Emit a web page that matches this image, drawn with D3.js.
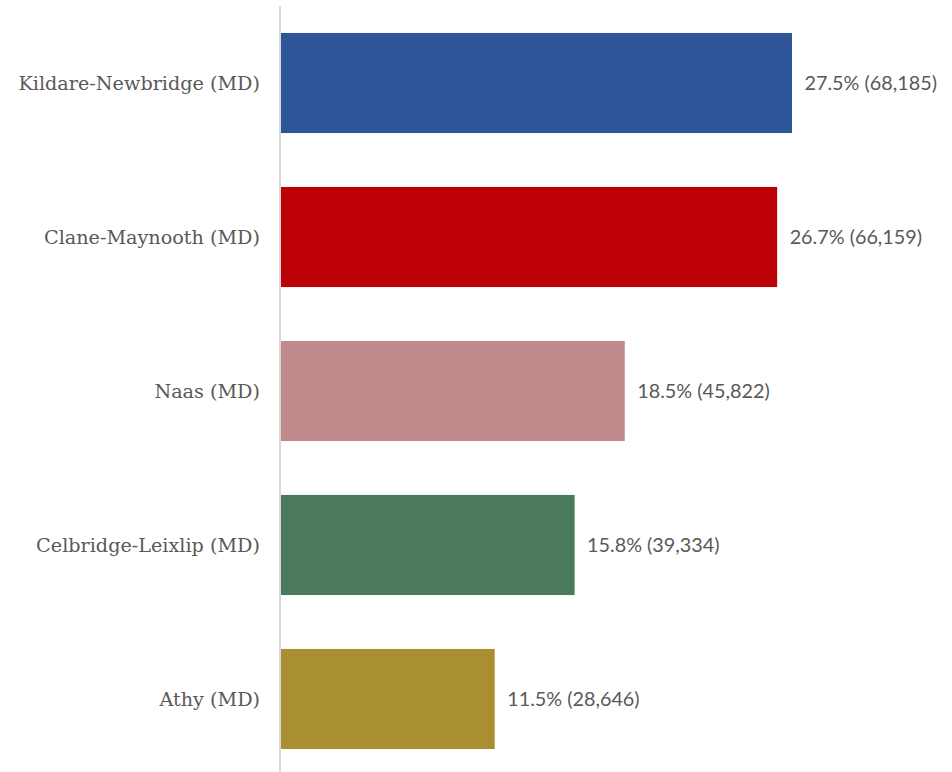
<!DOCTYPE html>
<html>
<head>
<meta charset="utf-8">
<script src="https://cdn.jsdelivr.net/npm/d3@7"></script>
<style>
  html, body { margin: 0; padding: 0; background: #fff; }
  svg { display: block; }
</style>
</head>
<body>
<svg id="chart" width="952" height="772"></svg>
<script>
// Population share by Municipal District
const categories = ["Kildare-Newbridge (MD)", "Clane-Maynooth (MD)", "Naas (MD)", "Celbridge-Leixlip (MD)", "Athy (MD)"];
const shares = [27.5, 26.7, 18.5, 15.8, 11.5];
const counts = [68185, 66159, 45822, 39334, 28646];
const colors = ["#2E5597", "#BC0005", "#BF8A8B", "#4A7A5B", "#A98F32"];

const svg = d3.select("#chart");
const x0 = 281;

const x = d3.scaleLinear().domain([0, 27.5]).range([x0, 792]);
const y = d3.scaleBand().domain(categories).range([6, 776])
  .paddingInner(0.35).paddingOuter(0.175);

const rows = categories.map((c, i) => ({ c, v: shares[i], n: counts[i], col: colors[i] }));

// bars
svg.append("g").selectAll("rect").data(rows).join("rect")
  .attr("x", x(0))
  .attr("y", d => y(d.c))
  .attr("width", d => x(d.v) - x(0))
  .attr("height", y.bandwidth())
  .attr("fill", d => d.col);

// category axis line
svg.append("line")
  .attr("x1", x0 - 1).attr("x2", x0 - 1)
  .attr("y1", 6).attr("y2", 772)
  .attr("stroke", "#d9d9d9").attr("stroke-width", 2);

// category labels
svg.append("g").selectAll("text").data(rows).join("text")
  .attr("x", 260)
  .attr("y", d => y(d.c) + y.bandwidth() / 2)
  .attr("dy", "0.35em")
  .attr("text-anchor", "end")
  .attr("font-family", "'DejaVu Serif', serif")
  .attr("font-size", 19.2)
  .attr("fill", "#595959")
  .text(d => d.c);

// value labels
const fmt = d3.format(",");
svg.append("g").selectAll("text").data(rows).join("text")
  .attr("x", d => x(d.v) + 12.5)
  .attr("y", d => y(d.c) + y.bandwidth() / 2)
  .attr("dy", "0.35em")
  .attr("font-family", "Lato, sans-serif")
  .attr("font-size", 19.8)
  .attr("fill", "#595959")
  .text(d => `${d.v.toFixed(1)}% (${fmt(d.n)})`);
</script>
</body>
</html>
